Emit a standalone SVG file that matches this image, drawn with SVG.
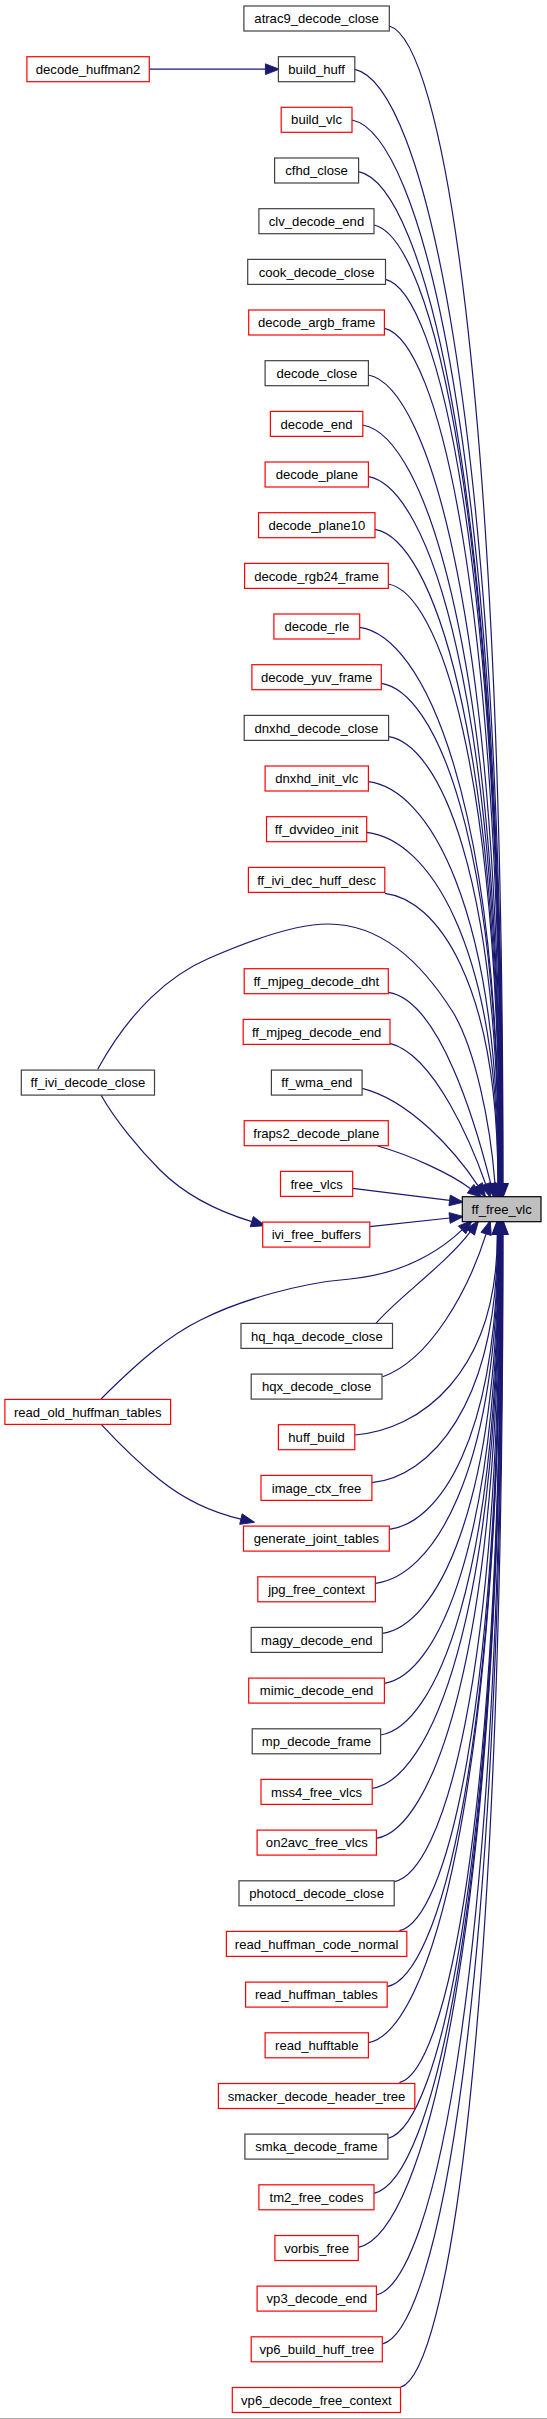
<svg xmlns="http://www.w3.org/2000/svg" width="547" height="2419" viewBox="0 0 547 2419">
<style>
.bg{fill:#ffffff}
.n rect{fill:#ffffff;stroke-width:1.2}
.n.r rect{stroke:#ff0000}
.n.b rect{stroke:#404040}
.n.g rect{fill:#bfbfbf;stroke:#000000}
.n text{font-family:"Liberation Sans",Arial,sans-serif;font-size:13.1px;fill:#000000;text-anchor:middle}
.e path{fill:none;stroke:#191970;stroke-width:1.2}
</style>
<defs>
<marker id="ah" markerUnits="userSpaceOnUse" markerWidth="14" markerHeight="11" viewBox="0 0 13 10" refX="0" refY="5" orient="auto" overflow="visible">
<path d="M0,0 L13,5 L0,10 Z" fill="#191970" stroke="#191970" stroke-width="0.8"/>
</marker>
</defs>
<rect class="bg" x="0" y="0" width="547" height="2419"/>
<line x1="0" y1="2418.5" x2="547" y2="2418.5" stroke="#a8a8a8" stroke-width="1"/>
<g id="connectors" class="e">
<path marker-end="url(#ah)" d="M149.3,69.2 L265.4,69.2"/>
<path marker-end="url(#ah)" d="M389.3,26 C440.5,40.6 503,373.3 503,1183.5"/>
<path marker-end="url(#ah)" d="M354.8,69.3 C421.4,83.4 502.7,403.6 502.7,1183.5"/>
<path marker-end="url(#ah)" d="M352,120 C419.7,133.6 502.4,439 502.4,1183.5"/>
<path marker-end="url(#ah)" d="M358.6,171.7 C423.2,184.8 502.1,475.2 502.1,1183.5"/>
<path marker-end="url(#ah)" d="M374,225 C431.5,237.6 501.8,512.6 501.8,1183.5"/>
<path marker-end="url(#ah)" d="M385.5,279.3 C437.7,291.3 501.5,550.6 501.5,1183.5"/>
<path marker-end="url(#ah)" d="M384.4,328.3 C437,339.9 501.2,584.9 501.2,1183.5"/>
<path marker-end="url(#ah)" d="M368.4,375 C428,386.1 500.9,617.6 500.9,1183.5"/>
<path marker-end="url(#ah)" d="M362.8,425 C424.8,435.6 500.6,652.6 500.6,1183.5"/>
<path marker-end="url(#ah)" d="M368.4,476.7 C427.8,486.8 500.3,688.7 500.3,1183.5"/>
<path marker-end="url(#ah)" d="M375,529.3 C431.3,538.8 500,725.6 500,1183.5"/>
<path marker-end="url(#ah)" d="M388.3,584 C438.4,593 499.7,763.9 499.7,1183.5"/>
<path marker-end="url(#ah)" d="M359.7,627.3 C422.6,635.9 499.4,794.2 499.4,1183.5"/>
<path marker-end="url(#ah)" d="M381.3,683.3 C434.3,691.3 499.1,833.4 499.1,1183.5"/>
<path marker-end="url(#ah)" d="M388.6,736.7 C438.2,744.2 498.8,870.7 498.8,1183.5"/>
<path marker-end="url(#ah)" d="M368.4,781.7 C426.9,788.7 498.5,902.2 498.5,1183.5"/>
<path marker-end="url(#ah)" d="M366.7,832.3 C425.9,838.8 498.2,937.7 498.2,1183.5"/>
<path marker-end="url(#ah)" d="M384.8,893.3 C435.7,899.2 497.9,980.4 497.9,1183.5"/>
<path marker-end="url(#ah)" d="M97.7,1069.3 C130,1010 170,975 209,958.3 C260,936 300,924 328,924 C380,924 420,960 453.5,1013 C475,1050 490,1120 495,1183.5"/>
<path marker-end="url(#ah)" d="M388.3,992.3 C440,1000 476.2,1125.7 490.8,1183.9"/>
<path marker-end="url(#ah)" d="M390,1043.3 C435,1055 472.5,1146.4 485.7,1184.2"/>
<path marker-end="url(#ah)" d="M362.1,1088.3 C410,1100 455.9,1152.2 477.9,1185.6"/>
<path marker-end="url(#ah)" d="M377.8,1146 C410,1155 450.6,1173.7 470.6,1188.7"/>
<path marker-end="url(#ah)" d="M352.7,1188.3 L449.6,1200.4"/>
<path marker-end="url(#ah)" d="M369.8,1226.7 L449.6,1218"/>
<path marker-end="url(#ah)" d="M101,1095 C115,1120 140,1150 160,1170 C185,1195 220,1212 251.8,1221.6"/>
<path marker-end="url(#ah)" d="M376,1323.4 C395,1300 446.2,1263.9 470.2,1231.9"/>
<path marker-end="url(#ah)" d="M101,1399 C140,1360 170,1335 200.6,1320 C240,1300 300,1283 350,1279 C390,1275 430,1260 462.1,1229.9"/>
<path marker-end="url(#ah)" d="M382.7,1376.7 C430,1360 468.1,1291.1 486.1,1233.9"/>
<path marker-end="url(#ah)" d="M101.2,1424.3 C125,1450 145,1468 160,1480 C185,1500 210,1512 240.9,1519.1"/>
<path marker-end="url(#ah)" d="M354.8,1435 C418.9,1430 497.3,1374.8 497.3,1234.5"/>
<path marker-end="url(#ah)" d="M371.9,1482.7 C428.5,1477.2 497.6,1408.2 497.6,1234.5"/>
<path marker-end="url(#ah)" d="M389.3,1529.3 C438.2,1523.4 497.9,1440.9 497.9,1234.5"/>
<path marker-end="url(#ah)" d="M375.4,1583.3 C430.7,1576.8 498.2,1478.7 498.2,1234.5"/>
<path marker-end="url(#ah)" d="M382.3,1633.3 C434.6,1626.3 498.5,1513.7 498.5,1234.5"/>
<path marker-end="url(#ah)" d="M384.4,1683.3 C435.9,1675.8 498.8,1548.7 498.8,1234.5"/>
<path marker-end="url(#ah)" d="M380.6,1735 C433.9,1727 499.1,1584.8 499.1,1234.5"/>
<path marker-end="url(#ah)" d="M372.2,1788.3 C429.4,1779.8 499.4,1622.2 499.4,1234.5"/>
<path marker-end="url(#ah)" d="M376.4,1838.3 C431.9,1829.3 499.7,1657.2 499.7,1234.5"/>
<path marker-end="url(#ah)" d="M394.2,1881.7 C441.8,1872.2 500,1687.5 500,1234.5"/>
<path marker-end="url(#ah)" d="M399.4,1930.7 C444.8,1920.7 500.3,1721.8 500.3,1234.5"/>
<path marker-end="url(#ah)" d="M387.2,1986.7 C438.2,1976.2 500.6,1761 500.6,1234.5"/>
<path marker-end="url(#ah)" d="M368.4,2042.7 C428,2031.6 500.9,1800.2 500.9,1234.5"/>
<path marker-end="url(#ah)" d="M399.4,2082.7 C445.2,2071.2 501.2,1828.2 501.2,1234.5"/>
<path marker-end="url(#ah)" d="M387.9,2138.3 C439,2126.3 501.5,1867.2 501.5,1234.5"/>
<path marker-end="url(#ah)" d="M374,2193.3 C431.5,2180.7 501.8,1905.7 501.8,1234.5"/>
<path marker-end="url(#ah)" d="M358.3,2247.3 C423,2234.2 502.1,1943.5 502.1,1234.5"/>
<path marker-end="url(#ah)" d="M376.4,2295 C433.1,2281.4 502.4,1976.8 502.4,1234.5"/>
<path marker-end="url(#ah)" d="M382.3,2344 C436.5,2329.9 502.7,2011.1 502.7,1234.5"/>
<path marker-end="url(#ah)" d="M400.5,2387.3 C446.6,2372.8 503,2041.5 503,1234.5"/>
</g>
<g id="node-ff_free_vlc" class="n g"><rect x="462.3" y="1196.7" width="78.7" height="25"/><text x="501.7" y="1213.8">ff_free_vlc</text></g>
<g id="node-decode_huffman2" class="n r"><rect x="26.9" y="56.7" width="122.4" height="25"/><text x="88.1" y="73.8">decode_huffman2</text></g>
<g id="node-ff_ivi_decode_close" class="n b"><rect x="21.3" y="1070.1" width="133.2" height="25"/><text x="87.9" y="1087.2">ff_ivi_decode_close</text></g>
<g id="node-read_old_huffman_tables" class="n r"><rect x="4.9" y="1399.4" width="165.7" height="25"/><text x="87.7" y="1416.5">read_old_huffman_tables</text></g>
<g id="node-atrac9_decode_close" class="n b"><rect x="243.9" y="6" width="145.4" height="25"/><text x="316.6" y="23.1">atrac9_decode_close</text></g>
<g id="node-build_huff" class="n b"><rect x="278.4" y="56.7" width="76.4" height="25"/><text x="316.6" y="73.8">build_huff</text></g>
<g id="node-build_vlc" class="n r"><rect x="281.2" y="107.3" width="70.8" height="25"/><text x="316.6" y="124.4">build_vlc</text></g>
<g id="node-cfhd_close" class="n b"><rect x="274.6" y="158" width="84" height="25"/><text x="316.6" y="175.1">cfhd_close</text></g>
<g id="node-clv_decode_end" class="n b"><rect x="258.9" y="208.7" width="115.1" height="25"/><text x="316.5" y="225.8">clv_decode_end</text></g>
<g id="node-cook_decode_close" class="n b"><rect x="247.7" y="259.4" width="137.8" height="25"/><text x="316.6" y="276.5">cook_decode_close</text></g>
<g id="node-decode_argb_frame" class="n r"><rect x="248.7" y="310" width="135.7" height="25"/><text x="316.6" y="327.1">decode_argb_frame</text></g>
<g id="node-decode_close" class="n b"><rect x="265.1" y="360.7" width="103.3" height="25"/><text x="316.8" y="377.8">decode_close</text></g>
<g id="node-decode_end" class="n r"><rect x="270.4" y="411.4" width="92.4" height="25"/><text x="316.6" y="428.5">decode_end</text></g>
<g id="node-decode_plane" class="n r"><rect x="265.1" y="462" width="103.3" height="25"/><text x="316.8" y="479.1">decode_plane</text></g>
<g id="node-decode_plane10" class="n r"><rect x="258.5" y="512.7" width="116.5" height="25"/><text x="316.8" y="529.8">decode_plane10</text></g>
<g id="node-decode_rgb24_frame" class="n r"><rect x="244.6" y="563.4" width="143.7" height="25"/><text x="316.5" y="580.5">decode_rgb24_frame</text></g>
<g id="node-decode_rle" class="n r"><rect x="273.9" y="614" width="85.8" height="25"/><text x="316.8" y="631.1">decode_rle</text></g>
<g id="node-decode_yuv_frame" class="n r"><rect x="251.9" y="664.7" width="129.4" height="25"/><text x="316.6" y="681.8">decode_yuv_frame</text></g>
<g id="node-dnxhd_decode_close" class="n b"><rect x="244.2" y="715.4" width="144.4" height="25"/><text x="316.4" y="732.5">dnxhd_decode_close</text></g>
<g id="node-dnxhd_init_vlc" class="n r"><rect x="265.1" y="766" width="103.3" height="25"/><text x="316.8" y="783.1">dnxhd_init_vlc</text></g>
<g id="node-ff_dvvideo_init" class="n r"><rect x="266.5" y="816.7" width="100.2" height="25"/><text x="316.6" y="833.8">ff_dvvideo_init</text></g>
<g id="node-ff_ivi_dec_huff_desc" class="n r"><rect x="248.4" y="867.4" width="136.4" height="25"/><text x="316.6" y="884.5">ff_ivi_dec_huff_desc</text></g>
<g id="node-ff_mjpeg_decode_dht" class="n r"><rect x="244.2" y="968.7" width="144.1" height="25"/><text x="316.3" y="985.8">ff_mjpeg_decode_dht</text></g>
<g id="node-ff_mjpeg_decode_end" class="n r"><rect x="243.2" y="1019.4" width="146.8" height="25"/><text x="316.6" y="1036.5">ff_mjpeg_decode_end</text></g>
<g id="node-ff_wma_end" class="n b"><rect x="271.4" y="1070.1" width="90.7" height="25"/><text x="316.8" y="1087.2">ff_wma_end</text></g>
<g id="node-fraps2_decode_plane" class="n r"><rect x="244.2" y="1120.7" width="144.1" height="25"/><text x="316.3" y="1137.8">fraps2_decode_plane</text></g>
<g id="node-free_vlcs" class="n r"><rect x="280.5" y="1171.4" width="72.2" height="25"/><text x="316.6" y="1188.5">free_vlcs</text></g>
<g id="node-ivi_free_buffers" class="n r"><rect x="262.7" y="1222.1" width="107.1" height="25"/><text x="316.3" y="1239.2">ivi_free_buffers</text></g>
<g id="node-hq_hqa_decode_close" class="n b"><rect x="241" y="1323.4" width="151.5" height="25"/><text x="316.8" y="1340.5">hq_hqa_decode_close</text></g>
<g id="node-hqx_decode_close" class="n b"><rect x="251.2" y="1374.1" width="130.8" height="25"/><text x="316.6" y="1391.2">hqx_decode_close</text></g>
<g id="node-huff_build" class="n r"><rect x="278.4" y="1424.7" width="76.4" height="25"/><text x="316.6" y="1441.8">huff_build</text></g>
<g id="node-image_ctx_free" class="n r"><rect x="261" y="1475.4" width="110.9" height="25"/><text x="316.5" y="1492.5">image_ctx_free</text></g>
<g id="node-generate_joint_tables" class="n r"><rect x="243.5" y="1526.1" width="145.8" height="25"/><text x="316.4" y="1543.2">generate_joint_tables</text></g>
<g id="node-jpg_free_context" class="n r"><rect x="257.8" y="1576.8" width="117.6" height="25"/><text x="316.6" y="1593.9">jpg_free_context</text></g>
<g id="node-magy_decode_end" class="n b"><rect x="251.2" y="1627.4" width="131.1" height="25"/><text x="316.8" y="1644.5">magy_decode_end</text></g>
<g id="node-mimic_decode_end" class="n r"><rect x="248.7" y="1678.1" width="135.7" height="25"/><text x="316.6" y="1695.2">mimic_decode_end</text></g>
<g id="node-mp_decode_frame" class="n b"><rect x="252.2" y="1728.8" width="128.4" height="25"/><text x="316.4" y="1745.9">mp_decode_frame</text></g>
<g id="node-mss4_free_vlcs" class="n r"><rect x="261" y="1779.4" width="111.2" height="25"/><text x="316.6" y="1796.5">mss4_free_vlcs</text></g>
<g id="node-on2avc_free_vlcs" class="n r"><rect x="257.1" y="1830.1" width="119.3" height="25"/><text x="316.8" y="1847.2">on2avc_free_vlcs</text></g>
<g id="node-photocd_decode_close" class="n b"><rect x="239" y="1880.8" width="155.2" height="25"/><text x="316.6" y="1897.9">photocd_decode_close</text></g>
<g id="node-read_huffman_code_normal" class="n r"><rect x="226.4" y="1931.4" width="180.4" height="25"/><text x="316.6" y="1948.5">read_huffman_code_normal</text></g>
<g id="node-read_huffman_tables" class="n r"><rect x="245.6" y="1982.1" width="141.6" height="25"/><text x="316.4" y="1999.2">read_huffman_tables</text></g>
<g id="node-read_hufftable" class="n r"><rect x="265.1" y="2032.8" width="103.3" height="25"/><text x="316.8" y="2049.9">read_hufftable</text></g>
<g id="node-smacker_decode_header_tree" class="n r"><rect x="218.4" y="2083.5" width="196.4" height="25"/><text x="316.6" y="2100.6">smacker_decode_header_tree</text></g>
<g id="node-smka_decode_frame" class="n b"><rect x="244.9" y="2134.1" width="143" height="25"/><text x="316.4" y="2151.2">smka_decode_frame</text></g>
<g id="node-tm2_free_codes" class="n r"><rect x="258.9" y="2184.8" width="115.1" height="25"/><text x="316.5" y="2201.9">tm2_free_codes</text></g>
<g id="node-vorbis_free" class="n r"><rect x="274.9" y="2235.5" width="83.4" height="25"/><text x="316.6" y="2252.6">vorbis_free</text></g>
<g id="node-vp3_decode_end" class="n r"><rect x="257.1" y="2286.1" width="119.3" height="25"/><text x="316.8" y="2303.2">vp3_decode_end</text></g>
<g id="node-vp6_build_huff_tree" class="n r"><rect x="251.2" y="2336.8" width="131.1" height="25"/><text x="316.8" y="2353.9">vp6_build_huff_tree</text></g>
<g id="node-vp6_decode_free_context" class="n r"><rect x="232.3" y="2387.5" width="168.2" height="25"/><text x="316.4" y="2404.6">vp6_decode_free_context</text></g>
</svg>
